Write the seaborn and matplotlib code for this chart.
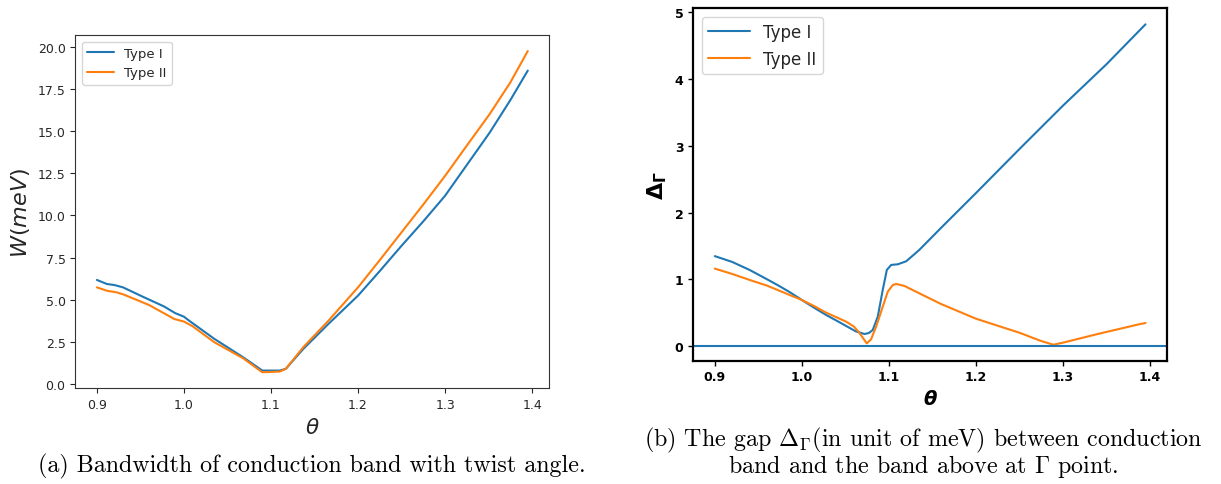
import matplotlib
matplotlib.use("Agg")
import matplotlib.pyplot as plt
import seaborn as sns
import numpy as np

# ---------------- data ----------------
# (a) bandwidth W (meV) vs twist angle
theta_w1 = [0.9, 0.9115, 0.92, 0.93, 0.9525, 0.977, 0.99, 1.0, 1.006, 1.035, 1.068,
            1.09, 1.11, 1.117, 1.137, 1.166, 1.2, 1.225, 1.25, 1.275, 1.3, 1.325,
            1.351, 1.375, 1.395]
w_type1 = [6.17, 5.93, 5.87, 5.73, 5.18, 4.6, 4.2, 3.99, 3.75, 2.67, 1.58,
           0.79, 0.79, 0.89, 2.07, 3.56, 5.24, 6.7, 8.2, 9.65, 11.17, 13.0,
           14.9, 16.85, 18.6]
theta_w2 = [0.9, 0.9115, 0.923, 0.931, 0.96, 0.989, 1.0, 1.01, 1.035, 1.068,
            1.09, 1.11, 1.117, 1.137, 1.166, 1.2, 1.225, 1.25, 1.275, 1.3, 1.325,
            1.351, 1.375, 1.395]
w_type2 = [5.73, 5.53, 5.43, 5.3, 4.68, 3.85, 3.7, 3.42, 2.47, 1.52,
           0.69, 0.73, 0.89, 2.17, 3.75, 5.73, 7.35, 9.0, 10.65, 12.35, 14.15,
           16.0, 17.9, 19.76]

# (b) gap Delta_Gamma (meV) vs twist angle
theta_g1 = [0.9, 0.92, 0.94, 0.96, 0.974, 0.987, 1.0, 1.014, 1.028, 1.04, 1.051, 1.062,
            1.072, 1.077, 1.0815, 1.0873, 1.093, 1.0977, 1.1027, 1.1104, 1.12, 1.135,
            1.16, 1.2, 1.25, 1.3, 1.35, 1.395]
g_type1 = [1.347, 1.26, 1.14, 1.0, 0.9, 0.80, 0.69, 0.575, 0.465, 0.38, 0.30, 0.22,
           0.18, 0.195, 0.24, 0.44, 0.84, 1.14, 1.215, 1.225, 1.27, 1.44,
           1.77, 2.29, 2.95, 3.6, 4.22, 4.82]
theta_g2 = [0.9, 0.92, 0.94, 0.96, 0.974, 0.987, 1.0, 1.014, 1.028, 1.04, 1.051, 1.06,
            1.066, 1.0746, 1.0796, 1.0854, 1.093, 1.0988, 1.1046, 1.1085, 1.118, 1.135,
            1.16, 1.2, 1.25, 1.274, 1.289, 1.3, 1.34, 1.389, 1.395]
g_type2 = [1.16, 1.08, 0.99, 0.905, 0.83, 0.76, 0.69, 0.6, 0.5, 0.43, 0.365, 0.29,
           0.2, 0.04, 0.1, 0.29, 0.59, 0.815, 0.915, 0.93, 0.9, 0.79,
           0.63, 0.41, 0.2, 0.08, 0.02, 0.05, 0.18, 0.33, 0.345]

series_labels = ["Type I", "Type II"]
colors = ["#1f77b4", "#ff7f0e"]

# ---------------- figure ----------------
sns.set_style("ticks")
plt.rcParams["font.family"] = ["DejaVu Sans"]

fig = plt.figure(figsize=(12.21, 4.85), dpi=100)
ax1 = fig.add_axes([0.0617, 0.1973, 0.3882, 0.7285])
ax2 = fig.add_axes([0.5678, 0.2542, 0.3880, 0.7266])

# ---- panel (a)
sns.lineplot(x=theta_w1, y=w_type1, ax=ax1, color=colors[0], label=series_labels[0], lw=1.5)
sns.lineplot(x=theta_w2, y=w_type2, ax=ax1, color=colors[1], label=series_labels[1], lw=1.5)
ax1.set_xticks([0.9, 1.0, 1.1, 1.2, 1.3, 1.4])
ax1.set_yticks(np.arange(0, 20.1, 2.5))
ax1.set_yticklabels([f"{v:.1f}" for v in np.arange(0, 20.1, 2.5)])
ax1.tick_params(labelsize=9, length=3.5, width=0.8)
ax1.set_xlabel(r"$\theta$", fontsize=15.5)
ax1.set_ylabel(r"$W(meV)$", fontsize=16)
for s in ax1.spines.values():
    s.set_linewidth(0.8)
    s.set_color("#333333")
ax1.legend(loc="upper left", fontsize=9.5, frameon=True)

# ---- panel (b)
sns.lineplot(x=theta_g1, y=g_type1, ax=ax2, color=colors[0], label=series_labels[0], lw=1.5)
sns.lineplot(x=theta_g2, y=g_type2, ax=ax2, color=colors[1], label=series_labels[1], lw=1.5)
ax2.axhline(0, color=colors[0], lw=1.5)
ax2.set_xticks([0.9, 1.0, 1.1, 1.2, 1.3, 1.4])
ax2.set_xticklabels(["0.9", "1.0", "1.1", "1.2", "1.3", "1.4"])
ax2.set_yticks([0, 1, 2, 3, 4, 5])
ax2.set_yticklabels(["0", "1", "2", "3", "4", "5"])
ax2.tick_params(labelsize=9, length=3.5, width=1.0, colors="black")
for lab in ax2.get_xticklabels() + ax2.get_yticklabels():
    lab.set_fontweight("bold")
for s in ax2.spines.values():
    s.set_linewidth(1.6)
    s.set_color("black")
ax2.set_xlabel("θ", fontsize=14, fontstyle="italic", fontweight="bold", color="black")
ax2.set_ylabel(r"$\mathbf{\Delta_\Gamma}$", fontsize=16, color="black")
ax2.legend(loc="upper left", fontsize=12, frameon=True, handlelength=2.5)

# ---- captions
fig.text(0.255, 1 - 466 / 485, "(a) Bandwidth of conduction band with twist angle.",
         ha="center", va="center", family="cmr10", fontsize=17.3, color="black",
         math_fontfamily="cm")
fig.text(0.7565, 1 - 440 / 485, r"(b) The gap $\Delta_\Gamma$(in unit of meV) between conduction",
         ha="center", va="center", family="cmr10", fontsize=17.3, color="black",
         math_fontfamily="cm")
fig.text(0.7565, 1 - 467 / 485, r"band and the band above at $\Gamma$ point.",
         ha="center", va="center", family="cmr10", fontsize=17.3, color="black",
         math_fontfamily="cm")

fig.savefig("out.png", dpi=100)
